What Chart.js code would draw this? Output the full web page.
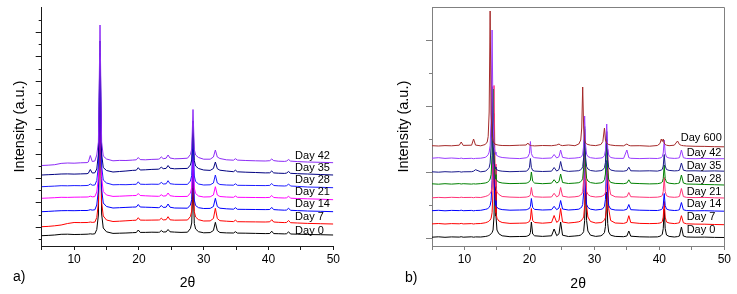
<!DOCTYPE html>
<html lang="en">
<head>
  <meta charset="UTF-8" />
  <title>XRD patterns vs. storage time</title>
  <script src="https://cdn.jsdelivr.net/npm/chart.js"></script>
  <style>
    body {
      margin: 0;
      background: #fff;
      width: 737px;
      height: 294px;
      overflow: hidden;
      position: relative;
      font-family: 'Liberation Sans', Arial, sans-serif;
    }
    .panel { position: absolute; top: 0; }
    #panelA { left: 0; }
    #panelB { left: 368px; }
    .tag { position: absolute; font-size: 14px; color: #000; line-height: 16px; }
  </style>
</head>
<body>

<div class="panel" id="panelA"><canvas id="chartA" width="368" height="294"></canvas></div>
<div class="panel" id="panelB"><canvas id="chartB" width="369" height="294"></canvas></div>
<div class="tag" style="left:13px; top:268px;">a)</div>
<div class="tag" style="left:405px; top:269px;">b)</div>

<script>
  // ---- panel a) data ----
  const daysA = ['Day 0', 'Day 7', 'Day 14', 'Day 21', 'Day 28', 'Day 35', 'Day 42'];
  const xA = [
    5, 6, 7, 8, 9, 10, 11, 12, 12.2, 12.5,
    12.8, 13.2, 13.5, 13.75, 14.0, 14.25, 14.5, 15, 16, 17,
    18, 19, 19.6, 19.9, 20.2, 21, 22, 23, 23.2, 23.45,
    23.75, 24.2, 24.5, 24.8, 25.5, 26.5, 27.5, 27.95, 28.15, 28.35,
    28.55, 28.75, 29.2, 30, 31, 31.5, 31.8, 32.1, 32.5, 33.5,
    34.6, 34.9, 35.2, 36.5, 38, 39.5, 40.2, 40.5, 40.8, 41.5,
    42.5, 42.8, 43.1, 43.4, 44.5, 46, 48, 50
  ];
  const day0A = [
    10.3, 10.6, 11, 11.7, 11.8, 11.5, 11.6, 11.8, 11.9, 12.2,
    11.9, 12.2, 16.5, 31, 148, 32, 18, 14.2, 12.6, 12.8,
    13, 13.3, 13.5, 16, 13.6, 13.6, 13.8, 13.7, 13.9, 15.5,
    14, 14.1, 16.5, 14.2, 13.9, 13.6, 13.8, 17.5, 23, 64,
    22.5, 17, 14.3, 13.2, 13.4, 15.5, 23.7, 15.5, 13.5, 13.1,
    13, 14.3, 12.9, 12.8, 12.6, 12.4, 12.5, 14.8, 12.4, 12.3,
    12.1, 12.3, 14.2, 12, 11.8, 11.5, 11.3, 11
  ];
  const day7A = [
    19.3, 19.6, 20.2, 21, 22.5, 23.5, 23.4, 23.5, 23.6, 24,
    23.6, 23.9, 28.5, 43, 159, 44, 30, 26, 24.5, 24.8,
    25.2, 25.6, 25.8, 28.3, 25.9, 25.8, 25.9, 26, 26.2, 27.8,
    26.1, 26.3, 29.3, 26.2, 25.8, 25.9, 26, 29.5, 35, 76,
    34.5, 29, 26.3, 25, 25.1, 27.5, 37.7, 27.5, 25.3, 24.8,
    24.4, 25.8, 24.3, 24.2, 24.1, 24, 24.2, 26.3, 24, 23.7,
    23.4, 23.6, 25.5, 23.3, 23, 22.6, 22.3, 22
  ];
  const day14A = [
    34.3, 34.6, 35, 35.3, 35.4, 35.3, 35.5, 35.5, 35.7, 36.3,
    35.9, 36.2, 41, 56, 170, 57, 43, 39.5, 38, 38.3,
    38.6, 38.9, 39, 41.5, 39, 38.8, 38.6, 38.3, 38.6, 40.6,
    38.6, 38.8, 42, 38.8, 38, 37.9, 37.8, 41, 46.5, 86,
    46, 40.5, 38.3, 37.5, 37.6, 39.5, 47.7, 39.5, 37.8, 37.2,
    36.8, 38.3, 36.7, 36.6, 36.5, 36.4, 36.5, 38.6, 36.4, 36.1,
    35.8, 36, 37.8, 35.7, 35.4, 35, 34.7, 34.3
  ];
  const day21A = [
    47.7, 48, 48.3, 48.7, 48.6, 48.8, 48.9, 49, 49.1, 49.8,
    49.2, 49.4, 54, 68, 181, 68.5, 54.5, 51, 49.6, 49.8,
    50.1, 50.4, 50.5, 52.5, 50.5, 50.2, 49.9, 49.7, 49.9, 51.3,
    49.9, 50.2, 53, 50.3, 49.6, 49.5, 49.6, 53, 58.5, 98,
    58, 52.5, 50, 49, 49.2, 51, 59.3, 51, 49.5, 49,
    48.7, 50, 48.7, 48.6, 48.5, 48.4, 48.6, 50.5, 48.5, 48.2,
    48, 48.2, 49.8, 47.8, 47.5, 47.2, 46.8, 46.3
  ];
  const day28A = [
    59.3, 59.6, 59.9, 60.3, 60.2, 60.4, 60.3, 60.5, 60.7, 62,
    60.8, 61, 65.5, 80, 193, 80, 66, 63, 61.2, 61.4,
    61.3, 61.6, 61.7, 64.2, 61.8, 61.6, 61.8, 61.7, 62, 63.8,
    62, 62.2, 65.3, 62.3, 61.7, 61.6, 61.6, 65, 70.5, 110,
    70, 64.5, 62, 61, 61.2, 63, 71, 63, 61.5, 61,
    60.8, 62.2, 60.7, 60.6, 60.5, 60.4, 60.6, 62.5, 60.5, 60.2,
    60, 60.3, 62, 60, 59.6, 59, 58.7, 58.3
  ];
  const day35A = [
    71, 71.3, 71.6, 72, 72.1, 71.9, 72.1, 72.3, 72.8, 76.5,
    73, 73.2, 77, 92, 205, 92, 78.5, 75.5, 74, 74.5,
    75, 75.6, 75.8, 78.3, 76, 76.2, 76.6, 76.8, 77.2, 79,
    77.3, 77.6, 80.5, 77.8, 77.2, 77.4, 77.6, 81, 86, 125,
    85.5, 80, 77.5, 76, 75.6, 77.5, 84, 77.3, 75.8, 75,
    74.3, 75.8, 74.2, 73.8, 73.5, 73.1, 73.2, 75, 73.1, 72.8,
    72.6, 73, 74.5, 72.7, 72.3, 72, 71.5, 71
  ];
  const day42A = [
    80.5, 80.8, 81.3, 82.6, 83, 82.8, 83.2, 83.4, 84, 90.5,
    84.5, 85, 91, 104, 221, 104, 90, 87, 85.2, 85.6,
    85.5, 85.9, 86.2, 88.5, 86.4, 86.2, 86.6, 86.8, 87.2, 89.2,
    87.3, 87.8, 91, 88, 87.2, 87.4, 87.8, 91.5, 97, 136.5,
    96.5, 91, 88.5, 86.8, 86.8, 89, 96, 89, 87.5, 86.2,
    85.8, 87.3, 85.9, 85.5, 85.2, 85, 85.3, 87, 85.4, 84.8,
    84.6, 85, 86.5, 84.9, 84.4, 84, 83.7, 83.3
  ];
  const yMajorA = [18.9, 43.2, 67.5, 91.9, 116.2, 140.5, 164.9, 189.2, 213.5];
  const yMinorA = [6.7, 31.0, 55.4, 79.7, 104.0, 128.4, 152.7, 177.0, 201.4, 225.7];

  // ---- panel b) data ----
  const daysB = ['Day 0', 'Day 7', 'Day 14', 'Day 21', 'Day 28', 'Day 35', 'Day 42', 'Day 600'];
  const xB = [
    5, 6, 7, 8, 9.2, 9.5, 9.8, 11.1, 11.4, 11.7,
    12.5, 13.2, 13.5, 13.65, 13.8, 13.95, 14.1, 14.25, 14.4, 14.55,
    14.7, 14.85, 15.0, 15.3, 15.8, 17, 18.5, 19.5, 19.75, 20.0,
    20.15, 20.3, 20.5, 20.8, 22, 23.4, 23.8, 24.2, 24.55, 24.8,
    25.1, 26, 27, 27.6, 27.9, 28.05, 28.2, 28.35, 28.5, 28.65,
    28.8, 29.0, 29.4, 30.2, 31.0, 31.3, 31.55, 31.7, 31.9, 32.05,
    32.2, 32.5, 33.2, 34.5, 35.0, 35.3, 35.6, 37, 38.5, 39.7,
    40.1, 40.3, 40.45, 40.6, 40.75, 40.9, 41.1, 41.5, 42.3, 42.8,
    43.1, 43.4, 43.7, 44.2, 45.5, 47, 48.5, 50
  ];
  const day0B = [
    8.8, 9.2, 8.7, 9.1, 8.9, 9.3, 8.8, 9.2, 8.8, 9.1,
    9, 9.5, 9.9, 10.2, 10.6, 11.3, 12.2, 13.5, 16, 30,
    79, 30, 16, 12.2, 10.2, 9.3, 9.5, 9.6, 10.2, 11,
    13.5, 24, 12, 10.2, 9.6, 10.2, 17, 10.3, 12.2, 24,
    10.8, 9.5, 10, 10.4, 11, 11.8, 12.8, 14.5, 25.5, 64,
    25.5, 15, 10.8, 9.6, 10.2, 11.5, 13.5, 19.5, 54, 22.5,
    14, 10.8, 9.6, 9.3, 10, 15, 9.8, 9.2, 9, 9.1,
    9.8, 10.6, 11.8, 17.4, 37, 17.4, 11, 9.6, 9, 9.4,
    10, 19, 10, 9, 8.8, 8.9, 8.6, 8.5
  ];
  const day7B = [
    22.1, 22.5, 22, 22.4, 22.2, 22.6, 22.1, 22.4, 22, 22.3,
    22.5, 23.2, 23.9, 24.3, 25, 26, 27.8, 33.3, 55.5, 132.5,
    55.5, 33.3, 27.8, 25, 23.5, 22.6, 22.8, 23, 23.6, 24.5,
    27, 37.5, 25.5, 23.5, 22.8, 23.5, 30.5, 23.6, 25.5, 37.5,
    24, 23, 23.6, 24.2, 25, 26, 27.4, 29, 40.3, 82.3,
    40.3, 29, 24.5, 23, 23.4, 24.3, 26.2, 28.3, 37.3, 72.3,
    37.3, 25.5, 23, 22.6, 23.6, 30.3, 23.5, 22.6, 22.4, 22.6,
    23, 23.5, 24.4, 28.9, 44.5, 28.9, 24, 23, 22.4, 22.8,
    23.3, 30.3, 23.2, 22.2, 21.9, 21.8, 21.5, 21.3
  ];
  const day14B = [
    35.3, 35.7, 35.2, 35.6, 35.4, 35.8, 35.3, 35.6, 35.2, 35.5,
    35.7, 36.6, 37.1, 37.8, 38.6, 40.5, 45.5, 65.5, 135.5, 65.5,
    45.5, 40.5, 38.6, 37.2, 36.4, 35.8, 36, 36.2, 36.8, 37.6,
    39.5, 47.5, 38.4, 36.6, 36, 36.3, 39.7, 36.3, 38, 45.5,
    37, 36, 36.4, 36.8, 38, 39, 41.5, 53.5, 95.5, 53.5,
    41.5, 38.6, 36.8, 36, 36.6, 37.3, 39.7, 46.5, 85.5, 50.5,
    40.5, 37, 36, 35.8, 36.7, 41.5, 36.3, 35.8, 35.6, 35.5,
    36, 36.4, 37.2, 40.6, 52.5, 40.6, 37, 36, 35.5, 35.7,
    36.3, 43.5, 36.2, 35.4, 35.2, 35.3, 35, 34.8
  ];
  const day21B = [
    48.2, 48.6, 48.3, 48.7, 48.4, 48.8, 48.5, 48.6, 48.3, 48.7,
    48.5, 49.5, 50.2, 50.7, 51.5, 52.4, 54.1, 59.7, 82.1, 160.5,
    82, 59.5, 54, 51.5, 49.5, 48.9, 48.6, 48.9, 49.3, 49.8,
    51.5, 58.5, 50.5, 49.2, 48.8, 49, 52.7, 49.1, 50.6, 58.5,
    49.8, 48.8, 49.2, 49.8, 51, 52, 54.5, 66.5, 108.5, 66.5,
    54.5, 51.6, 49.8, 49, 49.4, 50.2, 51.3, 53.5, 62.9, 96.5,
    62.9, 51.4, 49.2, 48.8, 49.4, 53.5, 49.3, 48.9, 48.6, 48.8,
    49.3, 49.8, 50.5, 54.5, 68.5, 54.5, 50.3, 49.1, 48.7, 49,
    49.6, 57.5, 49.4, 48.6, 48.4, 48.6, 48.2, 48
  ];
  const day28B = [
    62.2, 61.8, 62.3, 61.9, 62.4, 62, 62.3, 61.9, 62.2, 62,
    62.4, 63, 63.6, 64.2, 65.3, 67, 71.5, 90.5, 157, 90.5,
    71.5, 67, 65.3, 63.8, 63, 62.4, 62.6, 62.8, 63.4, 64.4,
    66, 74, 64.8, 62.9, 62.3, 62.8, 66.3, 62.9, 64.5, 72,
    63.5, 62.5, 62.9, 63.3, 64.4, 65.3, 67.7, 78.6, 117, 78.6,
    67.7, 65, 63.4, 62.6, 63.1, 64, 66.3, 72, 107, 75.3,
    66.6, 63.6, 62.6, 62.3, 63, 66.2, 62.8, 62.4, 62.1, 62.3,
    62.8, 63.2, 64, 67.5, 81, 67.5, 63.8, 62.8, 62.2, 62.5,
    63.1, 71, 63, 62, 61.8, 61.5, 61.3, 61
  ];
  const day35B = [
    74.2, 73.8, 74.3, 74, 74.4, 73.9, 74.2, 74.3, 74.8, 76.3,
    74.2, 74.8, 76.2, 77.3, 78.5, 83, 100, 159.5, 100, 83,
    78.8, 77, 76.2, 75.3, 74.8, 74.3, 74.6, 74.8, 75.8, 78.5,
    87.5, 78.5, 75.6, 74.9, 74.5, 74.8, 78.5, 74.9, 76.5, 84.5,
    75.8, 74.6, 75, 75.3, 76.3, 77.2, 79.3, 88.3, 119.5, 88.3,
    79.3, 77, 75.5, 74.8, 75.3, 76.2, 78.3, 83.5, 114.5, 86.5,
    78.5, 76, 75, 74.8, 75.5, 78.8, 75.2, 75, 75.2, 74.9,
    75.5, 76, 76.6, 80, 91.5, 80, 76.5, 75.6, 75.1, 75.3,
    75.8, 83, 75.8, 75.1, 75.2, 74.9, 75.1, 74.8
  ];
  const day42B = [
    87.8, 88.3, 87.6, 88, 87.5, 87.9, 87.4, 87.7, 87.3, 87.6,
    87.8, 88.6, 90.1, 91.4, 93.9, 100.4, 126.1, 216, 126, 100.4,
    94, 91.4, 90.5, 89.3, 88.5, 87.8, 87.4, 88.2, 89, 92.6,
    104.5, 92.6, 89.3, 88.3, 87.6, 88, 91.5, 88, 89.3, 96,
    88.6, 87.6, 87.9, 88.4, 88.8, 89.6, 91.8, 100.3, 130, 100.3,
    91.8, 89.5, 88.3, 87.6, 88, 88.5, 90.5, 95.5, 122, 97.9,
    91, 88.5, 87.7, 87.6, 96, 88.3, 87.7, 87.4, 87.7, 87.5,
    88, 88.4, 89.3, 93, 106, 93, 89, 88, 87.6, 87.8,
    88.3, 96, 88.3, 87.5, 87.3, 87.6, 87.2, 87.3
  ];
  const day600B = [
    100.3, 100, 100.4, 100.2, 100.8, 104, 100.6, 100.8, 107, 100.9,
    100.2, 101.5, 104, 109.5, 134, 235, 132, 110, 105, 103,
    102, 101.5, 101.2, 100.8, 100.5, 100.4, 100.8, 101, 103, 101,
    100.6, 100.4, 100.3, 100.1, 100.5, 100.3, 100.6, 101, 102, 100.8,
    100.4, 101, 100.3, 102, 106, 118, 159, 118, 106, 103,
    102, 101.5, 100.8, 100.4, 101.5, 104.5, 118, 106, 103, 102,
    101.5, 101, 100.4, 100.2, 102, 100.6, 100.2, 100.3, 99.8, 100.5,
    102.5, 107, 104.5, 107, 103, 101.5, 100.8, 100.3, 100.8, 105,
    101.5, 100.6, 100.3, 100, 99.7, 99.6, 99.3, 99.2
  ];
  const yMajorB = [7.3, 73.3, 139.3, 205.3];
  const yMinorB = [40.3, 106.3, 172.3];

  const coloresA = ['#000000', '#ff0000', '#0000ff', '#ff00ff', '#1c1cff', '#000080', '#8d2cf5'];
  const coloresB = ['#000000', '#ff0000', '#0000ff', '#ff3377', '#008000', '#1a1a8c', '#9a3cff', '#a52a2a'];

  const FONT = "'Liberation Sans', Arial, sans-serif";

  // "Day n" tags drawn next to the right end of each trace
  const dayLabels = {
    id: 'dayLabels',
    afterDatasetsDraw(chart, args, opts) {
      const { ctx, scales: { x, y } } = chart;
      ctx.save();
      ctx.font = '11px ' + FONT;
      ctx.fillStyle = '#000';
      ctx.textAlign = 'left';
      ctx.textBaseline = 'middle';
      chart.data.datasets.forEach((ds, i) => {
        const last = ds.data[ds.data.length - 1].y;
        const px = x.getPixelForValue(opts.labelX[i]);
        const py = y.getPixelForValue(last) - opts.lift[i];
        ctx.fillText(ds.label, px, py);
      });
      ctx.restore();
    }
  };

  // top + right lines of the boxed frame (panel b)
  const frame = {
    id: 'frame',
    afterDraw(chart, args, opts) {
      if (!opts.color) return;
      const { ctx, chartArea: { left, top, right, bottom } } = chart;
      const t = Math.round(top) + 0.5, r = Math.round(right) + 0.5;
      ctx.save();
      ctx.strokeStyle = opts.color;
      ctx.lineWidth = 1;
      ctx.beginPath();
      ctx.moveTo(Math.round(left), t);
      ctx.lineTo(r, t);
      ctx.lineTo(r, Math.round(bottom));
      ctx.stroke();
      ctx.restore();
    }
  };

  function buildDatasets(names, xs, series, colors) {
    return names.map((name, i) => ({
      label: name,
      data: xs.map((x, k) => ({ x, y: series[i][k] })),
      borderColor: colors[i],
      borderWidth: 1,
      borderJoinStyle: 'round',
      pointRadius: 0,
      tension: 0,
      fill: false,
      order: names.length - i
    }));
  }

  function panelOptions(cfg) {
    const yTicks = cfg.yMajor.concat(cfg.yMinor).sort((a, b) => a - b);
    return {
      responsive: false,
      animation: false,
      devicePixelRatio: 1,
      layout: { padding: { top: cfg.top, right: cfg.right, left: 0, bottom: 0 } },
      plugins: {
        legend: { display: false },
        tooltip: { enabled: false },
        dayLabels: { labelX: cfg.labelX, lift: cfg.lift },
        frame: { color: cfg.frame }
      },
      scales: {
        x: {
          type: 'linear',
          min: 5,
          max: 50,
          afterFit: s => { s.height = 48; s.paddingLeft = 0; s.paddingRight = 0; },
          ticks: {
            stepSize: 5,
            autoSkip: false,
            maxRotation: 0,
            padding: 2,
            color: '#000',
            font: { size: 12, family: FONT },
            callback: v => (v % 10 === 0 ? v : '')
          },
          grid: { drawOnChartArea: false, tickLength: 4, tickColor: cfg.axis },
          border: { color: cfg.axis, width: 1 },
          title: {
            display: true,
            text: '2θ',
            color: '#000',
            font: { size: 14, family: FONT },
            padding: { top: 0, bottom: cfg.xTitlePad }
          }
        },
        y: {
          min: 0,
          max: cfg.yMax,
          afterBuildTicks: s => { s.ticks = yTicks.map(v => ({ value: v })); },
          afterFit: s => { s.width = cfg.yWidth; s.paddingTop = 0; s.paddingBottom = 0; },
          ticks: { display: false },
          grid: {
            drawOnChartArea: false,
            tickLength: 6,
            tickColor: cfg.axis,
            tickBorderDash: c => (c.tick && cfg.yMinor.includes(c.tick.value) ? [0, 3, 3, 20] : [])
          },
          border: { color: cfg.axis, width: 1 },
          title: {
            display: true,
            text: 'Intensity (a.u.)',
            color: '#000',
            font: { size: 14.5, family: FONT },
            padding: { top: cfg.yTitlePad, bottom: 0 }
          }
        }
      }
    };
  }

  // Panel a)
  new Chart(document.getElementById('chartA').getContext('2d'), {
    type: 'line',
    data: {
      datasets: buildDatasets(daysA, xA,
        [day0A, day7A, day14A, day21A, day28A, day35A, day42A], coloresA)
    },
    options: panelOptions({
      top: 7, right: 34.7, yWidth: 41.7, yMax: 239,
      yMajor: yMajorA, yMinor: yMinorA,
      axis: '#1a1a1a', frame: null,
      xTitlePad: 2.5, yTitlePad: 11,
      labelX: [44.1, 44.1, 44.1, 44.1, 44.1, 44.1, 44.1],
      lift: [4.5, 6.7, 7.7, 7.4, 7.4, 6.7, 7]
    }),
    plugins: [dayLabels, frame]
  });

  // Panel b)
  new Chart(document.getElementById('chartB').getContext('2d'), {
    type: 'line',
    data: {
      datasets: buildDatasets(daysB, xB,
        [day0B, day7B, day14B, day21B, day28B, day35B, day42B, day600B], coloresB)
    },
    options: panelOptions({
      top: 7.3, right: 12.7, yWidth: 64, yMax: 238.7,
      yMajor: yMajorB, yMinor: yMinorB,
      axis: '#808080', frame: '#808080',
      xTitlePad: 1.3, yTitlePad: 27.3,
      labelX: [44.2, 44.2, 44.2, 44.2, 44.2, 44.2, 44.2, 43.3],
      lift: [7.5, 7.4, 7, 5.7, 6, 5.5, 5.4, 9]
    }),
    plugins: [dayLabels, frame]
  });
</script>

</body>
</html>
